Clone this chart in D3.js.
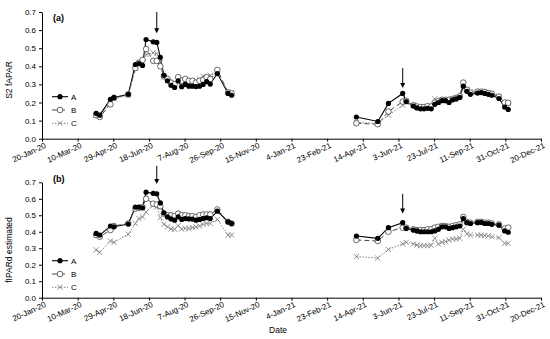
<!DOCTYPE html>
<html><head><meta charset="utf-8">
<script src="https://cdn.jsdelivr.net/npm/d3@7"></script>
<style>body{margin:0;background:#fff}svg{display:block}text{font-family:"Liberation Sans",Arial,sans-serif}</style>
</head><body><svg id="c" width="550" height="339"></svg>
<script>
const tickLabels = ["20-Jan-20","10-Mar-20","29-Apr-20","18-Jun-20","7-Aug-20","26-Sep-20","15-Nov-20","4-Jan-21","23-Feb-21","14-Apr-21","3-Jun-21","23-Jul-21","11-Sep-21","31-Oct-21","20-Dec-21"];
const yTicks = [0,0.1,0.2,0.3,0.4,0.5,0.6,0.7];
const seriesNames = ["A","B","C"];
const arrowDates = ["2020-06-29","2021-06-09"];

const dates2020 = ["2020-04-05","2020-04-10","2020-04-25","2020-04-30","2020-05-20","2020-05-30","2020-06-04","2020-06-09","2020-06-14","2020-06-24","2020-06-29","2020-07-04","2020-07-09","2020-07-14","2020-07-19","2020-07-24","2020-07-29","2020-08-03","2020-08-08","2020-08-13","2020-08-18","2020-08-23","2020-08-28","2020-09-02","2020-09-07","2020-09-12","2020-09-22","2020-10-07","2020-10-12"];
const dates2021 = ["2021-04-05","2021-05-05","2021-05-20","2021-06-09","2021-06-14","2021-06-24","2021-06-29","2021-07-04","2021-07-09","2021-07-14","2021-07-19","2021-07-24","2021-07-29","2021-08-03","2021-08-08","2021-08-13","2021-08-18","2021-08-23","2021-08-28","2021-09-02","2021-09-07","2021-09-12","2021-09-22","2021-09-27","2021-10-02","2021-10-07","2021-10-12","2021-10-22","2021-10-30","2021-11-04"];

// Panel (a): S2 fAPAR
const fapar_A_2020 = [0.14,0.13,0.218,0.228,0.245,0.41,0.415,0.405,0.548,0.535,0.532,0.45,0.35,0.32,0.295,0.283,0.32,0.287,0.30,0.29,0.29,0.288,0.29,0.30,0.315,0.302,0.36,0.25,0.24];
const fapar_B_2020 = [0.13,0.12,0.19,0.225,0.245,0.39,0.42,0.435,0.495,0.43,0.43,0.40,0.345,0.33,0.31,0.30,0.34,0.32,0.33,0.32,0.32,0.31,0.32,0.325,0.34,0.33,0.38,0.255,0.25];
const fapar_C_2020 = [0.13,0.125,0.2,0.22,0.24,0.39,0.41,0.42,0.465,0.475,0.47,0.42,0.34,0.32,0.30,0.31,0.32,0.31,0.32,0.32,0.32,0.32,0.33,0.345,0.34,0.35,0.365,0.26,0.255];
const fapar_A_2021 = [0.12,0.095,0.195,0.25,0.205,0.18,0.17,0.165,0.165,0.168,0.165,0.19,0.2,0.21,0.21,0.2,0.215,0.22,0.228,0.29,0.262,0.245,0.252,0.255,0.25,0.245,0.24,0.222,0.175,0.162];
const fapar_B_2021 = [0.085,0.08,0.15,0.205,0.21,0.185,0.178,0.175,0.175,0.18,0.178,0.2,0.208,0.215,0.215,0.215,0.22,0.225,0.235,0.31,0.27,0.255,0.26,0.26,0.258,0.252,0.248,0.232,0.2,0.198];
const fapar_C_2021 = [0.09,0.085,0.13,0.185,0.2,0.185,0.175,0.172,0.172,0.178,0.175,0.22,0.2,0.21,0.215,0.215,0.22,0.225,0.232,0.3,0.27,0.258,0.26,0.262,0.26,0.255,0.25,0.235,0.2,0.195];

// Panel (b): fIPARd estimated
const fipar_A_2020 = [0.39,0.38,0.435,0.43,0.447,0.55,0.55,0.545,0.64,0.633,0.63,0.575,0.515,0.49,0.478,0.47,0.49,0.475,0.48,0.478,0.477,0.47,0.475,0.48,0.485,0.48,0.525,0.46,0.45];
const fipar_B_2020 = [0.38,0.37,0.41,0.435,0.45,0.54,0.545,0.55,0.60,0.57,0.565,0.555,0.51,0.50,0.50,0.495,0.51,0.50,0.50,0.495,0.495,0.49,0.50,0.505,0.505,0.505,0.535,0.46,0.45];
const fipar_C_2020 = [0.29,0.275,0.344,0.336,0.385,0.45,0.48,0.49,0.52,0.56,0.55,0.485,0.445,0.43,0.417,0.415,0.437,0.417,0.42,0.42,0.425,0.43,0.435,0.445,0.45,0.45,0.475,0.38,0.38];
const fipar_A_2021 = [0.374,0.36,0.425,0.455,0.42,0.41,0.405,0.40,0.40,0.40,0.40,0.405,0.415,0.43,0.43,0.42,0.425,0.43,0.435,0.48,0.455,0.45,0.455,0.457,0.45,0.45,0.445,0.44,0.405,0.397];
const fipar_B_2021 = [0.35,0.344,0.40,0.425,0.425,0.415,0.41,0.41,0.41,0.415,0.415,0.425,0.43,0.435,0.435,0.43,0.435,0.44,0.445,0.49,0.46,0.455,0.46,0.46,0.455,0.455,0.45,0.445,0.42,0.425];
const fipar_C_2021 = [0.25,0.24,0.293,0.326,0.336,0.326,0.32,0.316,0.316,0.316,0.318,0.36,0.326,0.336,0.34,0.35,0.356,0.356,0.36,0.415,0.387,0.38,0.38,0.38,0.377,0.375,0.37,0.364,0.33,0.33];

const parse = d3.utcParse("%Y-%m-%d");
const tickParse = d3.utcParse("%d-%b-%y");
const tickDates = tickLabels.map(tickParse);

const svg = d3.select("#c");
const x = d3.scaleUtc().domain([tickDates[0], tickDates[tickDates.length-1]]).range([42, 541]);

const styles = {
  A:{stroke:"#000", dash:null, width:1.1},
  B:{stroke:"#333", dash:"5,3", width:0.9},
  C:{stroke:"#777", dash:"1.5,1.5", width:0.9}
};

function marker(g, name, cx, cy){
  if(name==="A"){
    g.append("circle").attr("cx",cx).attr("cy",cy).attr("r",2.6).attr("fill","#000");
  } else if(name==="B"){
    g.append("circle").attr("cx",cx).attr("cy",cy).attr("r",2.8).attr("fill","#fff").attr("stroke","#444").attr("stroke-width",0.8);
  } else {
    const s=2.6;
    g.append("path").attr("d",`M${cx-s},${cy-s}L${cx+s},${cy+s}M${cx-s},${cy+s}L${cx+s},${cy-s}`).attr("stroke","#777").attr("stroke-width",0.8).attr("fill","none");
  }
}

function panel(cfg){
  const y = d3.scaleLinear().domain([0,0.7]).range([cfg.y0, cfg.y1]);
  const g = svg.append("g");
  const xa = g.append("g").attr("transform",`translate(0,${cfg.y0})`)
    .call(d3.axisBottom(x).tickValues(tickDates).tickFormat((d,i)=>tickLabels[i]).tickSize(3).tickSizeOuter(0));
  xa.select(".domain").attr("stroke","#000");
  xa.selectAll("text").attr("font-size",8).attr("fill","#000")
    .attr("text-anchor","end").attr("dx","0").attr("dy","0.7em")
    .attr("transform","rotate(-25)").attr("x",0).attr("y",4);
  const ya = g.append("g").attr("transform",`translate(42,0)`)
    .call(d3.axisLeft(y).tickValues(yTicks).tickFormat(d3.format(".1f")).tickSize(3).tickSizeOuter(0));
  ya.selectAll("text").attr("font-size",8).attr("fill","#000");
  g.append("text").attr("transform",`translate(12,${cfg.titleY}) rotate(-90)`)
    .attr("text-anchor","middle").attr("font-size",8.5).text(cfg.title);
  g.append("text").attr("x",53).attr("y",cfg.labY).attr("font-size",9).attr("font-weight","bold").text(cfg.lab);
  const line = d3.line().x(d=>x(d[0])).y(d=>y(d[1]));
  cfg.series.forEach(s=>{
    const st = styles[s.name];
    [[dates2020,s.v2020],[dates2021,s.v2021]].forEach(([ds,vs])=>{
      const pts = ds.map((d,i)=>[parse(d),vs[i]]);
      g.append("path").datum(pts).attr("d",line).attr("fill","none")
        .attr("stroke",st.stroke).attr("stroke-width",st.width).attr("stroke-dasharray",st.dash);
    });
  });
  [...cfg.series].reverse().forEach(s=>{
    [[dates2020,s.v2020],[dates2021,s.v2021]].forEach(([ds,vs])=>{
      ds.forEach((d,i)=>marker(g,s.name,x(parse(d)),y(vs[i])));
    });
  });
  seriesNames.forEach((n,i)=>{
    const ly = cfg.legY + i*13.3;
    const st = styles[n];
    g.append("line").attr("x1",52).attr("x2",68).attr("y1",ly).attr("y2",ly)
      .attr("stroke",st.stroke).attr("stroke-width",st.width).attr("stroke-dasharray",st.dash);
    marker(g,n,60,ly);
    g.append("text").attr("x",71).attr("y",ly+3).attr("font-size",8).attr("fill","#000").text(n);
  });
  cfg.arrows.forEach((a,i)=>{
    const ax = x(parse(arrowDates[i]));
    const yTop = y(a[0]), yBot = y(a[1]);
    g.append("line").attr("x1",ax).attr("x2",ax).attr("y1",yTop).attr("y2",yBot-4).attr("stroke","#000").attr("stroke-width",1);
    g.append("path").attr("d",`M${ax-2.5},${yBot-5}L${ax+2.5},${yBot-5}L${ax},${yBot}Z`).attr("fill","#000");
  });
}

panel({y0:138.7, y1:12, title:"S2 fAPAR", titleY:80, lab:"(a)", labY:21, legY:96.7,
  arrows:[[0.7,0.583],[0.39,0.28]],
  series:[{name:"A",v2020:fapar_A_2020,v2021:fapar_A_2021},{name:"B",v2020:fapar_B_2020,v2021:fapar_B_2021},{name:"C",v2020:fapar_C_2020,v2021:fapar_C_2021}]});
panel({y0:297.7, y1:182.3, title:"fIPARd estimated", titleY:250, lab:"(b)", labY:182, legY:260.7,
  arrows:[[0.8,0.69],[0.63,0.51]],
  series:[{name:"A",v2020:fipar_A_2020,v2021:fipar_A_2021},{name:"B",v2020:fipar_B_2020,v2021:fipar_B_2021},{name:"C",v2020:fipar_C_2020,v2021:fipar_C_2021}]});

svg.append("text").attr("x",278).attr("y",333).attr("text-anchor","middle").attr("font-size",8.5).text("Date");
</script></body></html>
